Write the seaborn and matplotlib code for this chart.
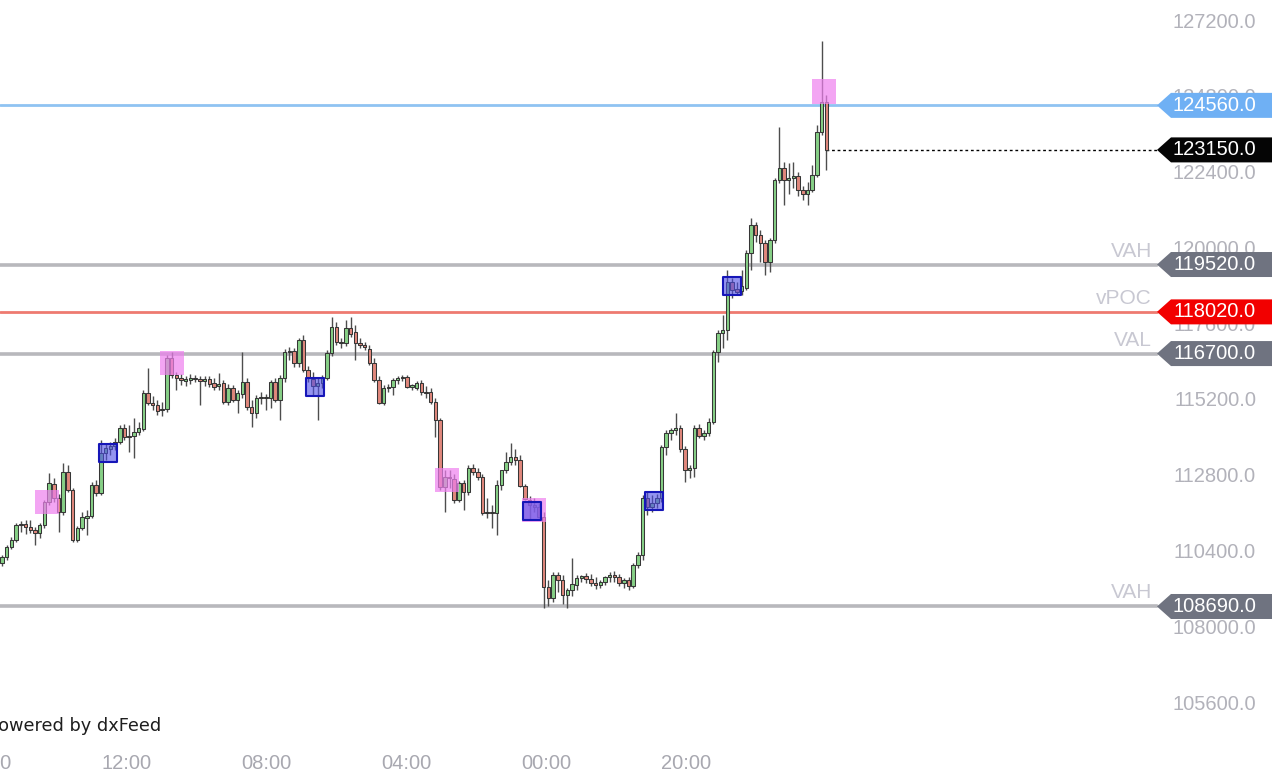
import matplotlib
matplotlib.use("Agg")
import matplotlib.pyplot as plt
import matplotlib.transforms as mtransforms
from matplotlib.patches import Polygon
import numpy as np
import seaborn as sns

# candle data (oldest -> newest)
opens = [110070, 110260, 110570, 110800, 111270, 111300, 111210, 111110, 111020, 111270,
         112000, 112570, 112130, 111680, 112950, 112380, 110800, 111180, 111490, 111560,
         112540, 112280, 113550, 113680, 113770, 113900, 114340, 114060, 114090, 114220,
         114310, 115450, 115130, 115070, 114910, 114940, 116560, 116020, 115930, 115830,
         115860, 115930, 115890, 115830, 115890, 115770, 115670, 115770, 115170, 115610,
         115230, 115420, 115800, 115010, 114820, 115290, 115320, 115290, 115800, 115230,
         115930, 116750, 116780, 116400, 117130, 116180, 115890, 115670, 115770, 115930,
         116720, 117540, 117070, 117030, 117510, 117380, 117030, 116970, 116840, 116400,
         115860, 115130, 115610, 115640, 115860, 115930, 115960, 115640, 115610, 115770,
         115480, 115480, 115170, 114600, 112470, 112790, 112730, 112060, 112600, 112320,
         113080, 112950, 112790, 111650, 111680, 111650, 112540, 113010, 113270, 113420,
         113330, 112510, 112060, 111900, 111840, 111520, 109310, 108960, 109690, 109530,
         109050, 109210, 109370, 109590, 109660, 109560, 109430, 109370, 109470, 109620,
         109690, 109620, 109430, 109530, 109340, 110000, 110320, 112130, 111840, 111970,
         112130, 113740, 114180, 114280, 114340, 113680, 113010, 113080, 114340, 114090,
         114180, 114530, 116750, 117350, 117450, 118970, 118740, 118680, 118780, 119880,
         120770, 120460, 120200, 119600, 120300, 122200, 122580, 122200, 122260, 122320,
         121880, 121750, 121880, 122360, 123720, 124670]
highs = [110320, 110640, 110890, 111330, 111400, 111430, 111430, 111210, 111330, 112060,
         112920, 112760, 112250, 113230, 113170, 112440, 111240, 111680, 111750, 112630,
         112700, 113960, 113870, 113900, 114030, 114440, 114470, 114440, 114660, 114530,
         115550, 116240, 115360, 115230, 115170, 116650, 116750, 116120, 116050, 115990,
         116050, 116020, 115990, 115990, 115990, 115930, 116080, 115860, 115740, 115700,
         115550, 116750, 115930, 115230, 115390, 115480, 115420, 115860, 115930, 116020,
         116840, 116910, 116880, 117190, 117290, 116310, 116120, 115930, 116020, 116810,
         117860, 117700, 117190, 117760, 117860, 117600, 117190, 117070, 116970, 116560,
         115990, 115700, 115740, 115930, 115990, 116020, 116020, 115740, 115830, 115860,
         115670, 115610, 115290, 114660, 113010, 113010, 112890, 112660, 112700, 113170,
         113200, 113080, 112890, 112130, 111900, 112700, 113010, 113580, 113870, 113680,
         113490, 112570, 112190, 112130, 111970, 111680, 109530, 109780, 109780, 109690,
         109280, 110230, 109690, 109690, 109750, 109720, 109620, 109530, 109660, 109780,
         109810, 109720, 109590, 109620, 110070, 110420, 112220, 112320, 112220, 112250,
         113800, 114280, 114340, 114820, 114440, 113770, 113170, 114440, 114470, 114280,
         114660, 116810, 117450, 117920, 119350, 119090, 118970, 119350, 119980, 120990,
         120870, 120610, 120300, 120360, 122260, 123880, 122770, 122740, 122770, 122450,
         122010, 122130, 122670, 123940, 126600, 124890]
lows = [109970, 110160, 110510, 110730, 111050, 110990, 111020, 110640, 110860, 111180,
        111900, 112000, 111050, 111590, 112320, 110730, 110730, 111110, 110950, 111490,
        112190, 112220, 113330, 113490, 113650, 113840, 113960, 113580, 113390, 114120,
        114250, 115070, 114910, 114750, 114720, 114850, 115930, 115550, 115700, 115670,
        115740, 115800, 115070, 115670, 115640, 115550, 115550, 115100, 115070, 115170,
        114820, 115290, 114910, 114370, 114660, 115100, 114910, 114980, 115170, 114600,
        115800, 116500, 116270, 116270, 116120, 115800, 115390, 114600, 115610, 115860,
        116620, 116970, 116880, 116940, 117220, 116500, 116880, 116810, 116340, 115800,
        115100, 115070, 115480, 115390, 115740, 115830, 115610, 115550, 115550, 115390,
        115290, 115100, 114060, 112380, 111680, 112440, 111970, 112000, 111750, 112220,
        112850, 112700, 111590, 111490, 111180, 110950, 112380, 112920, 113170, 113170,
        112470, 112060, 111430, 111680, 111490, 108640, 108710, 108830, 109150, 108770,
        108640, 109020, 109210, 109470, 109430, 109340, 109240, 109280, 109370, 109470,
        109470, 109340, 109280, 109210, 109280, 109910, 110160, 111590, 111680, 111810,
        112000, 113490, 113960, 114120, 113580, 112630, 112760, 112790, 114030, 113960,
        114090, 114470, 116430, 116880, 117130, 118460, 118550, 118550, 118710, 119350,
        120230, 119600, 119190, 119280, 120200, 122100, 121410, 121750, 121940, 121690,
        121560, 121410, 121820, 122290, 123620, 122510]
closes = [110260, 110570, 110800, 111270, 111300, 111210, 111110, 111020, 111270, 112000,
          112600, 112130, 111680, 112950, 112380, 110800, 111180, 111520, 111560, 112540,
          112280, 113550, 113710, 113770, 113900, 114340, 114060, 114090, 114220, 114340,
          115450, 115130, 115070, 114880, 114940, 116560, 116020, 115930, 115860, 115890,
          115930, 115890, 115830, 115890, 115740, 115640, 115740, 115170, 115610, 115230,
          115450, 115800, 115010, 114820, 115290, 115320, 115290, 115800, 115230, 115930,
          116750, 116780, 116400, 117130, 116180, 115930, 115670, 115770, 115930, 116720,
          117540, 117070, 117030, 117510, 117320, 117030, 116970, 116910, 116400, 115860,
          115130, 115610, 115640, 115860, 115930, 115960, 115640, 115700, 115770, 115480,
          115450, 115170, 114600, 112470, 112790, 112760, 112060, 112600, 112320, 113080,
          112950, 112790, 111650, 111680, 111650, 112540, 113010, 113270, 113420, 113330,
          112510, 112090, 111900, 111840, 111520, 109310, 108960, 109690, 109530, 109050,
          109210, 109400, 109590, 109660, 109560, 109430, 109370, 109470, 109620, 109690,
          109620, 109430, 109530, 109340, 110000, 110320, 112130, 111840, 111970, 112130,
          113740, 114180, 114280, 114340, 113680, 113010, 113080, 114340, 114090, 114180,
          114530, 116750, 117350, 117450, 118970, 118710, 118650, 118840, 119880, 120770,
          120460, 120200, 119600, 120300, 122200, 122580, 122200, 122260, 122320, 121880,
          121750, 121880, 122360, 123720, 124670, 123150]

price_ticks = [127200, 124800, 122400, 120000, 117600, 115200, 112800, 110400, 108000, 105600]
time_pos = [-3.2, 26.5, 56.2, 85.9, 115.6, 145.3]
time_labels = ["16:00", "12:00", "08:00", "04:00", "00:00", "20:00"]

levels = [124560, 123150, 119520, 118020, 116700, 108690]
level_names = ["", "", "VAH", "vPOC", "VAL", "VAH"]
line_colors = ["#8fc3f2", None, "#b8b8bc", "#ee7a70", "#b8b8bc", "#b8b8bc"]
tag_colors = ["#6fb0f4", "#050505", "#6f7380", "#f20000", "#6f7380", "#6f7380"]

# signal boxes (candle index, price)
pink_x = [9.5, 36, 94.5, 113, 174.5]
pink_y = [112000, 116400, 112700, 111750, 125000]
blue_x = [22.5, 66.5, 112.5, 138.5, 155]
blue_y = [113550, 115650, 111700, 112030, 118850]

sns.set_theme(style="white")
plt.rcParams['font.family'] = ['Liberation Sans', 'DejaVu Sans']

W, H = 1280, 777
fig = plt.figure(figsize=(W / 100, H / 100), dpi=100)
ax = fig.add_axes([0, 0, 1, 1])
ax.axis('off')
x0, x1 = -0.425, 271.3
y0, y1 = 103290, 127897
ax.set_xlim(x0, x1)
ax.set_ylim(y0, y1)
trans = ax.get_yaxis_transform()  # x in axes, y in data

o = np.array(opens); c = np.array(closes)
idx = np.arange(len(o))
up = c >= o
body_col = np.where(up, "#86cf86", "#e0877c")

# level lines
for lv, lc in zip(levels, line_colors):
    if lc is None:
        continue
    lw = 2.6 if lc == "#b8b8bc" else 2.0
    ax.axhline(lv, xmin=0, xmax=1157 / W, color=lc, lw=lw, zorder=1)

# candles
ax.vlines(idx, lows, highs, color="#4d4d4d", lw=1, zorder=2)
ax.bar(idx, np.abs(c - o), bottom=np.minimum(o, c), width=0.74,
       color=body_col, edgecolor="#363636", linewidth=0.75, zorder=3)

# last price dashed line
last_frac = (len(c) - 1 - x0) / (x1 - x0)
ax.axhline(closes[-1], xmin=last_frac, xmax=1157 / W, color="black",
           lw=1, ls=(0, (2, 2)), zorder=2)

# signal markers
sns.scatterplot(x=pink_x, y=pink_y, marker='s', s=300, color="#ee7fee",
                alpha=0.7, edgecolor="none", ax=ax, zorder=4, legend=False)
ax.scatter(blue_x, blue_y, marker='s', s=180, facecolors=(0.3, 0.3, 0.9, 0.6),
           edgecolors="#1616b8", linewidths=1.5, zorder=5)

# price axis labels
for p in price_ticks:
    ax.text(1256 / W, p, f"{p:.1f}", transform=trans, ha='right', va='center',
            fontsize=14.5, color="#b2b2ba", zorder=6)

# tags
hh = 12.5 / H
for lv, tc in zip(levels, tag_colors):
    yc = (lv - y0) / (y1 - y0)
    pts = [(1157 / W, yc), (1171 / W, yc + hh), (1272 / W, yc + hh),
           (1272 / W, yc - hh), (1171 / W, yc - hh)]
    ax.add_patch(Polygon(pts, closed=True, transform=ax.transAxes,
                         facecolor=tc, edgecolor='none', zorder=7, clip_on=False))
    ax.text(1256 / W, yc, f"{lv:.1f}", transform=ax.transAxes, ha='right',
            va='center', fontsize=14.5, color="white", zorder=8)

# level names
name_trans = mtransforms.offset_copy(trans, fig=fig, y=4, units='dots')
for lv, nm in zip(levels, level_names):
    if nm:
        ax.text(1152 / W, lv, nm, transform=name_trans, ha='right', va='bottom',
                fontsize=15, color="#c8c8d2", zorder=6)

# time axis
for tp, tl in zip(time_pos, time_labels):
    ax.text(tp, 0.018, tl, transform=ax.get_xaxis_transform(), ha='center',
            va='center', fontsize=14.5, color="#a8a8b0")

ax.text(161 / W, 1 - 726 / H, "Powered by dxFeed", transform=ax.transAxes,
        ha='right', va='center', fontsize=12.8, color="#1e1e1e",
        family=['DejaVu Sans'])

fig.savefig("out.png", dpi=100)
